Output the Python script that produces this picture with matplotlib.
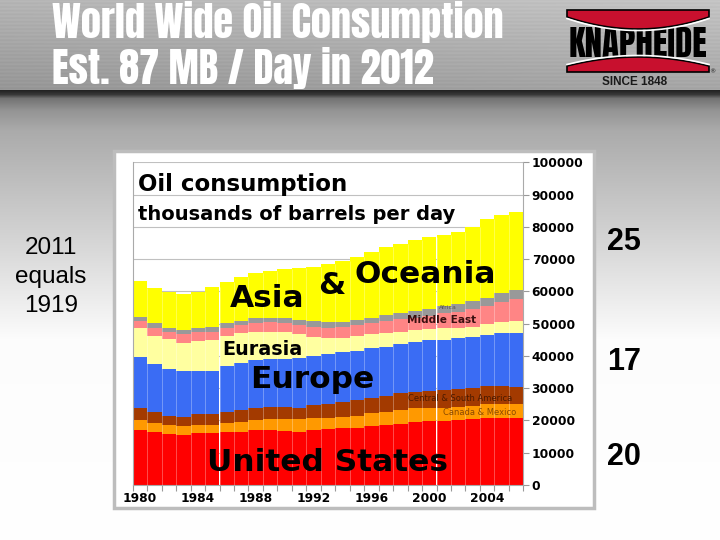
import numpy as np
import matplotlib
matplotlib.use('Agg')
import matplotlib.pyplot as plt
from matplotlib.patches import Rectangle, Polygon

# oil consumption, thousands of barrels per day
years = np.arange(1980, 2007)
us = [17.0, 16.3, 15.7, 15.5, 16.0, 16.0, 16.3, 16.5, 17.0, 17.0, 16.7, 16.5, 17.0, 17.2,
      17.6, 17.7, 18.3, 18.6, 18.8, 19.4, 19.8, 19.8, 20.1, 20.5, 20.9, 20.9, 20.7]
can_mex = [3.1, 2.8, 2.9, 2.8, 2.6, 2.6, 2.8, 3.1, 3.1, 3.5, 3.8, 4.0, 3.8, 3.7,
           3.6, 3.8, 3.9, 4.1, 4.4, 4.4, 4.2, 4.2, 4.2, 4.1, 4.1, 4.1, 4.3]
csa = [3.7, 3.6, 2.9, 2.9, 3.3, 3.3, 3.4, 3.6, 3.9, 3.8, 3.8, 3.5, 4.0, 4.1,
       4.6, 4.8, 4.7, 5.0, 5.2, 5.1, 5.1, 5.4, 5.4, 5.6, 5.8, 5.8, 5.5]
europe = [16.0, 14.8, 14.4, 14.1, 13.4, 13.4, 14.5, 14.5, 14.7, 14.7, 14.7, 15.3, 15.2, 15.5,
          15.3, 15.2, 15.5, 15.2, 15.2, 15.5, 15.7, 15.6, 15.8, 15.7, 15.7, 16.2, 16.5]
eurasia = [9.0, 8.8, 9.2, 8.6, 9.3, 9.6, 9.3, 9.3, 8.8, 8.5, 8.3, 7.4, 6.0, 5.0,
           4.6, 4.8, 4.3, 4.3, 3.9, 3.6, 3.4, 3.6, 3.3, 3.2, 3.3, 3.6, 3.8]
mideast = [2.0, 2.5, 2.4, 2.8, 2.7, 2.6, 2.5, 2.6, 2.8, 2.9, 2.8, 2.9, 3.1, 3.3,
           3.4, 3.3, 3.4, 3.6, 3.8, 3.9, 4.3, 4.6, 4.9, 5.4, 5.7, 6.2, 6.8]
africa = [1.4, 1.3, 1.3, 1.3, 1.4, 1.5, 1.3, 1.3, 1.4, 1.5, 1.6, 1.6, 1.7, 1.6,
          1.5, 1.5, 1.8, 1.9, 1.9, 2.0, 2.0, 2.2, 2.3, 2.5, 2.6, 2.7, 2.7]
asia = [11.0, 10.9, 11.1, 11.1, 11.2, 12.5, 12.9, 13.7, 13.9, 14.4, 15.2, 16.2, 16.9, 18.0,
        18.8, 19.7, 20.2, 21.2, 21.5, 22.0, 22.3, 22.1, 22.3, 23.1, 24.3, 24.2, 24.4]

series = [us, can_mex, csa, europe, eurasia, mideast, africa, asia]
colors = ['#ff0000', '#ff9900', '#a33a00', '#3a6cf4', '#ffffa0', '#ff8585', '#999999', '#ffff00']

year_labels = [1980, 1984, 1988, 1992, 1996, 2000, 2004]
side_numbers = ['25', '17', '20']

fig = plt.figure(figsize=(7.2, 5.4), dpi=100)
renderer = fig.canvas.get_renderer()


def fit_width(t, width):
    w = t.get_window_extent(renderer).width
    t.set_fontsize(t.get_fontsize() * width / w)


# slide background in pixel coordinates
bg = fig.add_axes([0, 0, 1, 1])
bg.set_xlim(0, 720)
bg.set_ylim(540, 0)
bg.axis('off')

rows = np.arange(540)
shade = np.interp(rows, [0, 30, 89, 90, 94, 98, 110, 130, 230, 340, 540],
                  [0.74, 0.70, 0.62, 0.14, 0.22, 0.45, 0.58, 0.67, 0.82, 0.99, 1.0])
img = np.repeat(shade[:, None], 720, axis=1)
cols = np.arange(720)
band = rows < 90
img[band] = img[band] + 0.06 * (cols[None, :] / 720.0 - 0.5) + 0.012 * np.sin(rows[band, None] * 1.7)
img = np.clip(img, 0, 1)
bg.imshow(np.dstack([img, img, img]), extent=(0, 720, 540, 0), aspect='auto', zorder=0)

# title
tfont = ['Anton', 'Oswald', 'Barlow Condensed', 'DejaVu Sans']
t1 = bg.text(52, 38, 'World Wide Oil Consumption', color='white', fontsize=30,
             fontweight='bold', family=tfont, va='baseline', ha='left')
fit_width(t1, 452)
bg.text(52, 84, 'Est. 87 MB / Day in 2012', color='white', fontsize=t1.get_fontsize(),
        fontweight='bold', family=tfont, va='baseline', ha='left')

# logo
xs = np.linspace(567, 709, 40)
u = ((xs - 638) / 71.0) ** 2
top_edge = 29 - 12 * u
bot_edge = 57 + 9 * u
kn = bg.text(638, 44, 'KNAPHEIDE', color='black', fontsize=20, fontweight='bold',
             family=tfont, ha='center', va='center', zorder=2)
fit_width(kn, 138)
top_poly = np.vstack([np.column_stack([xs, top_edge]), [[709, 10], [567, 10]]])
bot_poly = np.vstack([np.column_stack([xs, bot_edge]), [[709, 72], [567, 72]]])
for p in (top_poly, bot_poly):
    bg.add_patch(Polygon(p, closed=True, facecolor='#c8102e', edgecolor='black', lw=1.2, zorder=3))
bg.plot(xs, top_edge + 1.5, color='white', lw=1.2, zorder=4)
bg.plot(xs, bot_edge - 1.5, color='white', lw=1.2, zorder=4)
bg.text(635, 85, 'SINCE 1848', fontsize=8.5, fontweight='bold', family='Liberation Sans',
        color='#1a1a1a', ha='center', va='baseline', zorder=4)
bg.text(712, 72, '®', fontsize=4.5, color='#222222', ha='center', va='center', zorder=4)

# side texts
for txt, yb in zip(['2011', 'equals', '1919'], [254, 283, 312]):
    bg.text(51, yb, txt, fontsize=17.5, family='Liberation Sans', ha='center', va='baseline')
for txt, yb in zip(side_numbers, [250, 370, 465]):
    bg.text(624, yb, txt, fontsize=22, fontweight='bold', family='Liberation Sans',
            ha='center', va='baseline')

# picture frame of the embedded chart
bg.add_patch(Rectangle((114, 151), 480, 357, facecolor='white', edgecolor='#bdbdbd', lw=2.5, zorder=1))

# the chart
ax = fig.add_axes([132.7 / 720, 55.0 / 540, 390.6 / 720, 322.7 / 540])
ax.set_facecolor('white')
bottom = np.zeros(len(years))
for vals, c in zip(series, colors):
    v = np.array(vals) * 1000
    ax.bar(years, v, bottom=bottom, width=1.0, color=c, linewidth=0, zorder=2)
    bottom = bottom + v
ax.vlines(years[1:] - 0.5, 0, np.minimum(bottom[1:], bottom[:-1]), color='white',
          alpha=0.35, lw=0.6, zorder=3)

ax.set_xlim(years[0] - 0.5, years[-1] + 0.5)
ax.set_ylim(0, 100000)
ax.yaxis.tick_right()
ax.set_yticks(np.arange(0, 100001, 10000))
ax.set_yticklabels([str(t) for t in range(0, 100001, 10000)])
ax.set_xticks(year_labels)
ax.set_xticklabels([str(y) for y in year_labels])
ax.set_xticks(np.append(years - 0.5, years[-1] + 0.5), minor=True)
ax.tick_params(axis='x', which='major', length=0, pad=5)
ax.tick_params(axis='x', which='minor', length=4, color='#999999', width=0.8)
ax.tick_params(axis='y', which='major', length=4, color='#999999', width=0.8, pad=2)
for lab in ax.get_xticklabels() + ax.get_yticklabels():
    lab.set_fontweight('bold')
    lab.set_fontsize(8.8)
ax.yaxis.grid(True, color='#c0c0c0', lw=0.8, zorder=0)
ax.set_axisbelow(True)
for s in ['left', 'right', 'bottom']:
    ax.spines[s].set_color('#aaaaaa')
    ax.spines[s].set_linewidth(0.8)
ax.spines['top'].set_visible(False)

# chart titles and region labels
ax.text(1979.9, 91000, 'Oil consumption', fontsize=16.5, fontweight='bold', va='baseline', zorder=5)
ax.text(1979.9, 82000, 'thousands of barrels per day', fontsize=14, fontweight='bold',
        va='baseline', zorder=5)
big = dict(fontsize=22.5, fontweight='bold', ha='center', va='center', zorder=5)
ax.text(1992.96, 7100, 'United States', **big)
ax.text(1991.93, 32800, 'Europe', **big)
ax.text(1988.78, 57800, 'Asia', **big)
ax.text(1993.24, 61700, '&', **big)
ax.text(1999.7, 65100, 'Oceania', **big)
ax.text(1988.44, 42100, 'Eurasia', fontsize=13.8, fontweight='bold', ha='center', va='center', zorder=5)
ax.text(2000.84, 51000, 'Middle East', fontsize=7.6, fontweight='bold', color='#3a1010',
        ha='center', va='center', zorder=5)
ax.text(2001.3, 54900, 'Africa', fontsize=4.5, color='#555555', ha='center', va='center', zorder=5)
ax.text(2002.15, 26800, 'Central & South America', fontsize=6, color='#4a1a00',
        ha='center', va='center', zorder=5)
ax.text(2003.5, 22500, 'Canada & Mexico', fontsize=6, color='#8a4a00',
        ha='center', va='center', zorder=5)

fig.savefig('out.png', dpi=100)
